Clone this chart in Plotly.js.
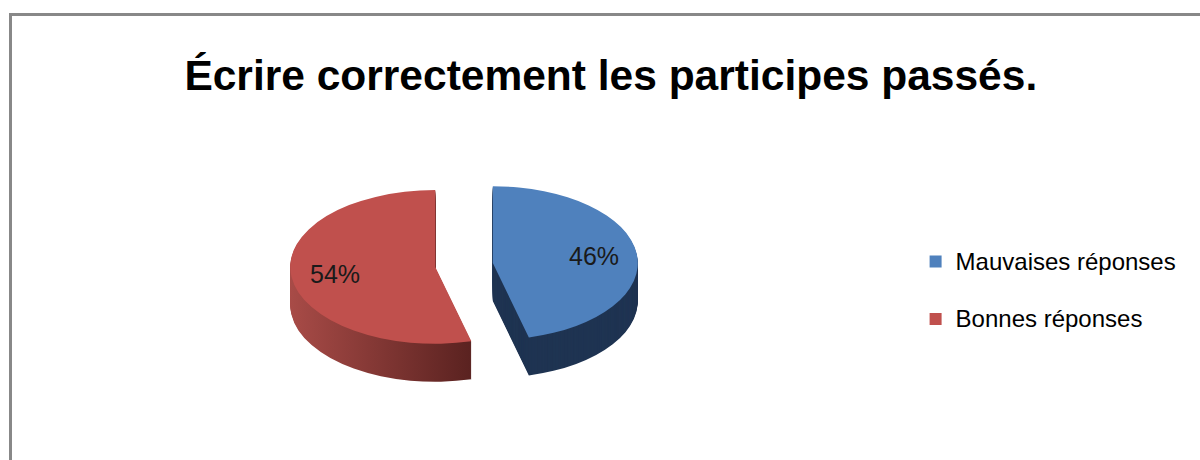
<!DOCTYPE html>
<html><head><meta charset="utf-8">
<script src="https://cdn.plot.ly/plotly-3.0.1.min.js"></script>
<style>html,body{margin:0;padding:0;background:#fff}#chart{width:1200px;height:460px}</style>
</head><body><div id="chart"></div>
<script>
// ---- data ----
const categories = ['Mauvaises réponses', 'Bonnes réponses'];
const values = [46, 54];
const topColors = ['#4F81BD', '#C0504D'];
const sideColors = ['#1F3452', '#853431'];
const sideGradient = ['#A84B47', '#5A2220'];
const titleText = 'Écrire correctement les participes passés.';

// ---- geometry / style ----
const W = 1200, H = 460;
const DEPTH = 38, TILT = 0.53;
const domainX = [0.2417, 0.5317], domainY = [0.0454, 0.8024];
const PULL = 0.2;
const CX = (domainX[0] + domainX[1]) / 2 * W;
const CY = (1 - (domainY[0] + domainY[1]) / 2) * H;
const R = Math.min((domainX[1] - domainX[0]) * W, (domainY[1] - domainY[0]) * H) / (2 + 2 * PULL);
const FONT = 'Liberation Sans, Arial, sans-serif';

const common = {
  type: 'pie', values: values, sort: false,
  direction: 'clockwise', rotation: 0, pull: PULL, textinfo: 'none',
  domain: {x: domainX, y: domainY}
};
const traces = [];
for (let k = DEPTH; k >= 1; k--) {
  traces.push(Object.assign({}, common, {
    labels: categories,
    marker: {colors: sideColors, line: {width: 0}}, hoverinfo: 'skip', showlegend: false
  }));
}
// legend labels: an empty first line widens the spacing between entries
const legendLabels = categories.map(c => '<br><span style="font-size:24px">' + c + '</span>');
traces.push(Object.assign({}, common, {
  labels: legendLabels,
  marker: {colors: topColors, line: {width: 0}}, showlegend: true, hoverinfo: 'percent'
}));

// percentage labels computed from the data
const total = values.reduce((a, b) => a + b, 0);
const annotations = [];
let cum = 0;
values.forEach((v, i) => {
  const mid = (cum + v / 2) / total * 2 * Math.PI;
  cum += v;
  const rr = PULL * R + 0.7 * R;
  const x = CX + rr * Math.sin(mid);
  const y = CY - rr * Math.cos(mid) * TILT;
  annotations.push({
    x: x / W, y: 1 - y / H, xref: 'paper', yref: 'paper', showarrow: false,
    xanchor: 'center', yanchor: 'middle',
    text: Math.round(v / total * 100) + '%',
    font: {family: FONT, size: 25, color: '#1a1a1a'}
  });
});

const layout = {
  width: W, height: H, margin: {l: 0, r: 0, t: 0, b: 0},
  paper_bgcolor: '#ffffff',
  title: {
    text: titleText,
    font: {family: FONT, size: 42.5, color: '#000', weight: 'bold'},
    x: 0.509, xanchor: 'center', xref: 'paper', y: 1 - 75 / H, yanchor: 'middle', yref: 'paper'
  },
  legend: {
    x: 0.763, y: 1 - 277 / H, xanchor: 'left', yanchor: 'middle', valign: 'bottom',
    font: {family: FONT, size: 21, color: '#000'},
    bgcolor: 'rgba(0,0,0,0)'
  },
  annotations: annotations,
  shapes: [{
    type: 'rect', xref: 'paper', yref: 'paper',
    x0: 10.5 / W, x1: 1.05, y0: -0.05, y1: 1 - 14.5 / H,
    line: {color: '#888888', width: 3}, fillcolor: 'rgba(0,0,0,0)'
  }]
};

Plotly.newPlot('chart', traces, layout, {displayModeBar: false, staticPlot: true}).then(gd => {
  const svg = gd.querySelector('svg.main-svg');
  const NS = 'http://www.w3.org/2000/svg';
  let defs = svg.querySelector('defs');
  if (!defs) { defs = document.createElementNS(NS, 'defs'); svg.insertBefore(defs, svg.firstChild); }
  const grad = document.createElementNS(NS, 'linearGradient');
  grad.setAttribute('id', 'sideGrad2');
  grad.setAttribute('gradientUnits', 'userSpaceOnUse');
  grad.setAttribute('x1', CX - R * (1 + PULL)); grad.setAttribute('x2', CX + 0.05 * R);
  grad.setAttribute('y1', 0); grad.setAttribute('y2', 0);
  sideGradient.forEach((c, j) => {
    const s = document.createElementNS(NS, 'stop');
    s.setAttribute('offset', j / (sideGradient.length - 1));
    s.setAttribute('stop-color', c);
    grad.appendChild(s);
  });
  defs.appendChild(grad);

  const groups = gd.querySelectorAll('.pielayer g.trace');
  groups.forEach((g, i) => {
    const off = i < DEPTH ? (DEPTH - i) : 0;
    g.setAttribute('transform', `translate(0, ${CY + off}) scale(1, ${TILT}) translate(0, ${-CY})`);
    if (i < DEPTH) {
      const slices = g.querySelectorAll('g.slice path.surface');
      if (slices[1]) slices[1].style.fill = 'url(#sideGrad2)';
    }
  });
});
</script>
</body></html>
